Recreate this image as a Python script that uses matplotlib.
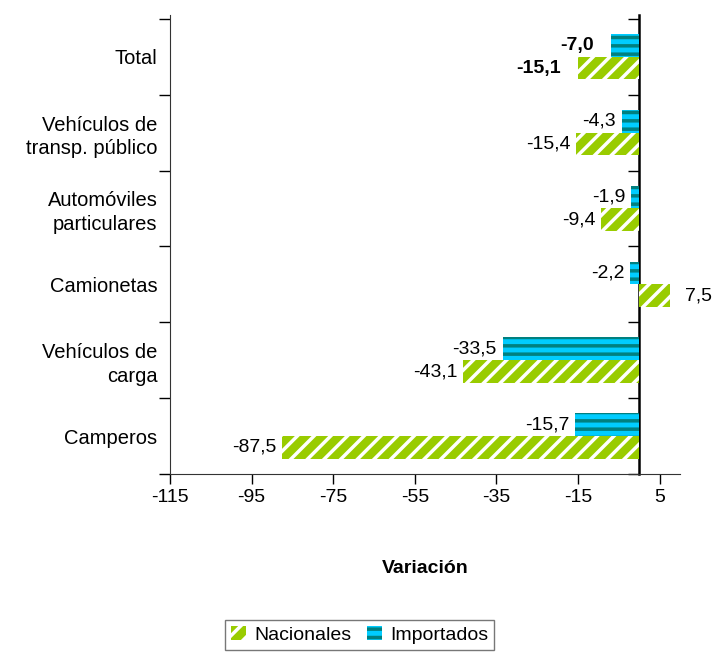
import matplotlib
matplotlib.use("Agg")
import matplotlib.pyplot as plt
import numpy as np

plt.rcParams['font.family'] = ['Liberation Sans', 'DejaVu Sans']
plt.rcParams['hatch.linewidth'] = 2.5

categories = ["Total", "Vehículos de\ntransp. público", "Automóviles\nparticulares",
              "Camionetas", "Vehículos de\ncarga", "Camperos"]
nacionales = [-15.1, -15.4, -9.4, 7.5, -43.1, -87.5]
importados = [-7.0, -4.3, -1.9, -2.2, -33.5, -15.7]
xticks = [-115, -95, -75, -55, -35, -15, 5]
series_names = ["Nacionales", "Importados"]

GREEN = "#99CC00"
BLUE = "#00CCFF"
TEAL = "#008080"

fig = plt.figure(figsize=(7.15, 6.52), dpi=100)
ax = fig.add_axes([0.2378, 0.273, 0.951 - 0.2378, 0.977 - 0.273])

y = np.arange(len(categories))
h = 0.30
xmin, xmax = -115, 10

b_imp = ax.barh(y - h / 2, importados, height=h, color=BLUE, edgecolor=TEAL,
                linewidth=0, hatch="--", label=series_names[1])
b_nac = ax.barh(y + h / 2, nacionales, height=h, color=GREEN, edgecolor="white",
                linewidth=0, hatch="//", label=series_names[0])

def fmt(v):
    return f"{v:.1f}".replace(".", ",")

for bars, vals in [(b_imp, importados), (b_nac, nacionales)]:
    for j, (bar, v) in enumerate(zip(bars, vals)):
        cy = bar.get_y() + bar.get_height() / 2
        if j == 0:
            off = -12
        else:
            off = -4 if v < 0 else 11
        ha = "right" if v < 0 else "left"
        ax.annotate(fmt(v), (v, cy), xytext=(off, 0), textcoords="offset points",
                    ha=ha, va="center", fontsize=14,
                    fontweight="bold" if j == 0 else "normal")

ax.set_xlim(xmin, xmax)
ax.set_ylim(len(categories) - 0.5, -0.55)

ax.set_xticks(xticks)
ax.set_xticklabels([str(t) for t in xticks], fontsize=14)
ax.tick_params(axis="x", direction="out", length=7, width=1, pad=4)

bounds = np.arange(len(categories) + 1) - 0.5
ax.set_yticks(bounds)
ax.set_yticklabels([])
ax.set_yticks(y, minor=True)
ax.set_yticklabels(categories, minor=True, fontsize=14.5, linespacing=1.3)
ax.tick_params(axis="y", which="minor", length=0, pad=9)
ax.tick_params(axis="y", which="major", direction="out", length=8, width=1)

for s in ["top", "right"]:
    ax.spines[s].set_visible(False)
ax.spines["left"].set_color("#333333")
ax.spines["bottom"].set_color("#333333")

# category axis at zero
zfrac = (0 - xmin) / (xmax - xmin)
sec = ax.secondary_yaxis(zfrac)
sec.set_yticks(bounds)
sec.set_yticklabels([])
sec.tick_params(axis="y", direction="in", length=8, width=1)
for s in sec.spines.values():
    s.set_linewidth(1.8)
    s.set_color("black")

ax.set_xlabel("Variación", fontsize=14, fontweight="bold", labelpad=39)

leg = fig.legend(handles=[b_nac, b_imp], labels=series_names, loc="center",
                 bbox_to_anchor=(0.503, 0.0265), ncol=2, frameon=True, fancybox=False,
                 fontsize=14, handlelength=0.8, handleheight=0.8, handletextpad=0.4,
                 columnspacing=0.8, borderpad=0.3, edgecolor="#555555")
leg.get_frame().set_linewidth(1.0)

fig.savefig("out.png", dpi=100)
